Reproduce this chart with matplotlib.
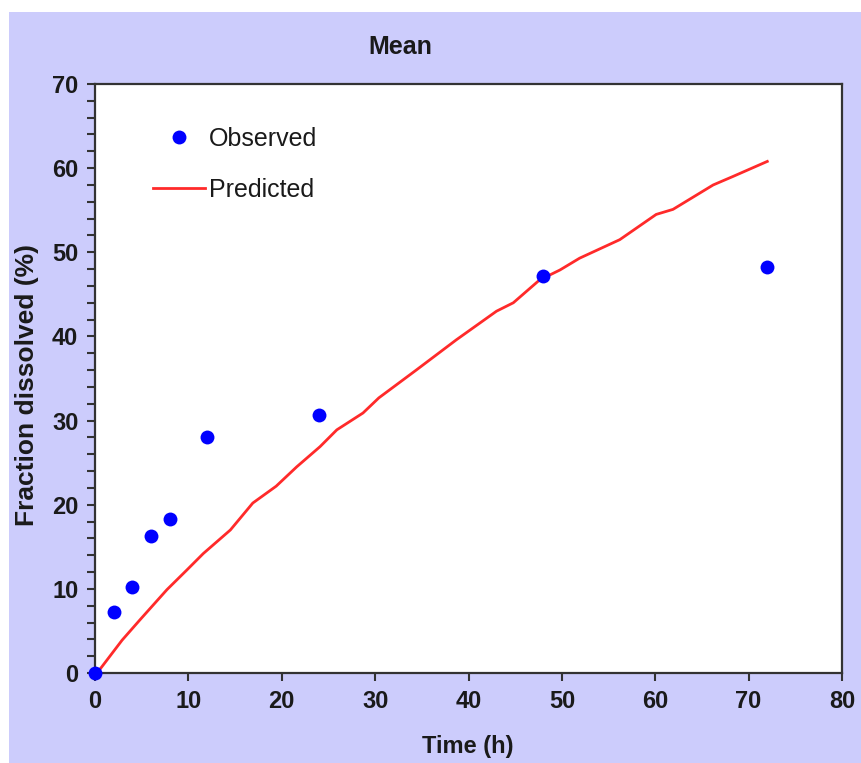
import matplotlib
matplotlib.use("Agg")
import matplotlib.pyplot as plt
from matplotlib.patches import Rectangle
from matplotlib.ticker import MultipleLocator

plt.rcParams['font.family'] = ['Liberation Sans Narrow', 'Liberation Sans', 'DejaVu Sans']

# Observed mean fraction dissolved
obs_time = [0, 2, 4, 6, 8, 12, 24, 48, 72]
obs_frac = [0.0, 7.3, 10.2, 16.3, 18.3, 28.1, 30.7, 47.2, 48.3]

# Model-predicted dissolution profile
pred_time = [0, 0.5, 2.9, 4.8, 7.7, 9.8, 11.6, 14.5, 16.9, 19.4, 21.6, 24.1, 25.9,
             28.7, 30.4, 34.4, 38.7, 43.0, 44.8, 47.6, 49.8, 51.9, 56.2, 60.1,
             61.9, 66.2, 68.3, 72.0]
pred_frac = [0.0, 0.4, 3.9, 6.3, 9.9, 12.2, 14.2, 17.0, 20.2, 22.2, 24.5, 26.9, 28.9,
             30.9, 32.7, 36.0, 39.6, 43.0, 44.0, 46.7, 47.9, 49.3, 51.5, 54.5,
             55.1, 58.0, 59.0, 60.8]

W, H = 861, 763
fig = plt.figure(figsize=(W / 100, H / 100), dpi=100)
fig.patch.set_facecolor('white')
fig.patches.append(Rectangle((9 / W, 0), 1 - 9 / W, (H - 12) / H,
                             transform=fig.transFigure, facecolor='#ccccfc',
                             edgecolor='none', zorder=-10))

ax = fig.add_axes([95 / W, (H - 673) / H, 747 / W, 589 / H])
ax.set_facecolor('white')
ax.set_zorder(5)

ax.plot(pred_time, pred_frac, color='#ff2a2a', lw=2.0, label='Predicted', zorder=2)
ax.plot(obs_time, obs_frac, 'o', color='#0000ff', ms=10, mec='none',
        label='Observed', clip_on=False, zorder=3)

ax.set_xlim(0, 80)
ax.set_ylim(0, 70)
ax.xaxis.set_major_locator(MultipleLocator(10))
ax.yaxis.set_major_locator(MultipleLocator(10))
ax.yaxis.set_minor_locator(MultipleLocator(2))

for s in ax.spines.values():
    s.set_color('#333333')
    s.set_linewidth(1.6)

ax.tick_params(axis='both', which='major', direction='out', length=6, width=1.5,
               color='#333333', labelsize=17, pad=6)
ax.tick_params(axis='y', which='minor', direction='out', length=6, width=1.5,
               color='#333333')
for lab in ax.get_xticklabels() + ax.get_yticklabels():
    lab.set_fontweight('bold')
    lab.set_color('#1a1a1a')

fig.text(400 / W, 1 - 47 / H, 'Mean', ha='center', va='center',
         fontsize=18, fontweight='bold', color='#1a1a1a')
fig.text(468 / W, 1 - 746 / H, 'Time (h)', ha='center', va='center',
         fontsize=17, fontweight='bold', color='#1a1a1a')
fig.text(27 / W, 1 - 385 / H, 'Fraction dissolved (%)', ha='center', va='center',
         rotation=90, fontsize=19, fontweight='bold', color='#1a1a1a')

handles, labels = ax.get_legend_handles_labels()
leg = ax.legend(handles[::-1], labels[::-1], loc='upper left',
                bbox_to_anchor=(0.047, 0.965), frameon=False, fontsize=18,
                handlelength=2.1, handletextpad=0.16, labelspacing=1.08)
for t in leg.get_texts():
    t.set_color('#1a1a1a')

fig.savefig('out.png', dpi=100, facecolor=fig.get_facecolor())
